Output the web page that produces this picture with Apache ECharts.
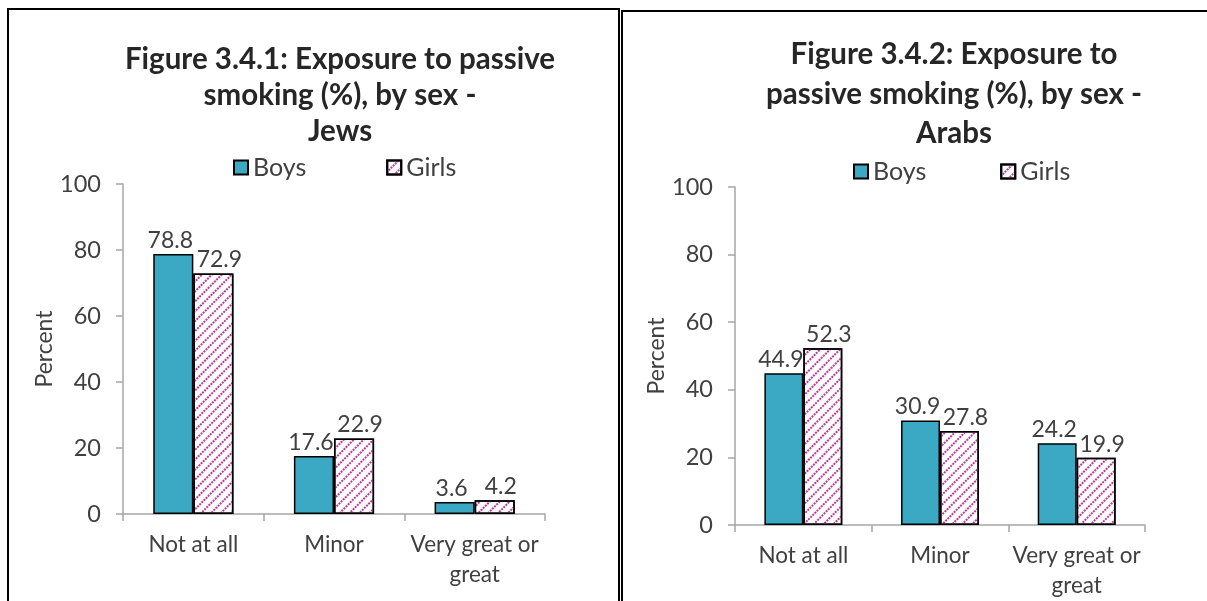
<!DOCTYPE html>
<html>
<head>
<meta charset="utf-8">
<script src="https://cdn.jsdelivr.net/npm/echarts@6/dist/echarts.min.js"></script>
<style>
html,body{margin:0;padding:0;background:#fff;}
#c{width:1207px;height:601px;}
</style>
</head>
<body>
<div id="c"></div>
<script>
const categories = ['Not at all', 'Minor', 'Very great or great'];
const jewsBoys = [78.8, 17.6, 3.6];
const jewsGirls = [72.9, 22.9, 4.2];
const arabsBoys = [44.9, 30.9, 24.2];
const arabsGirls = [52.3, 27.8, 19.9];
const yTicks = [0, 20, 40, 60, 80, 100];
const titleJews = 'Figure 3.4.1: Exposure to passive\nsmoking (%), by sex -\nJews';
const titleArabs = 'Figure 3.4.2: Exposure to\npassive smoking (%), by sex -\nArabs';

const FONT = 'Lato';
const TXT = '#404040';
const AX = '#A6A6A6';
const BOY = '#3BA8C4';
const GIRL_STRIPE = '#BE3A98';

const chart = echarts.init(document.getElementById('c'));

function xAxis(gi) {
  return {
    type: 'category', gridIndex: gi, data: categories,
    axisLine: {lineStyle: {color: AX, width: 1.5}},
    axisTick: {show: true, length: 7, lineStyle: {color: AX, width: 1.5}},
    axisLabel: {color: TXT, fontFamily: FONT, fontSize: 22.5, lineHeight: 30, margin: 16,
      interval: 0, formatter: v => v.replace(' or ', ' or\n')}
  };
}
function yAxis(gi, gap) {
  return {
    type: 'value', gridIndex: gi, min: yTicks[0], max: yTicks[yTicks.length-1], interval: 20,
    name: 'Percent', nameLocation: 'middle', nameGap: gap, nameRotate: 90,
    nameTextStyle: {color: TXT, fontFamily: FONT, fontSize: 23},
    axisLine: {show: true, lineStyle: {color: AX, width: 1.5}},
    axisTick: {show: true, length: 7, lineStyle: {color: AX, width: 1.5}},
    splitLine: {show: false},
    axisLabel: {color: TXT, fontFamily: FONT, fontSize: 23.5, margin: 22}
  };
}
const girlDecal = {
  symbol: 'rect', symbolSize: 1, color: GIRL_STRIPE,
  dashArrayX: [[2, 1]], dashArrayY: [2, 5], rotation: -Math.PI / 4
};
function labelOpt(dx) {
  return {show: true, position: 'top', distance: 2, offset: [dx, 0],
    color: TXT, fontFamily: FONT, fontSize: 23};
}
function boySeries(name, data, gi) {
  return {
    name: name, type: 'bar', xAxisIndex: gi, yAxisIndex: gi, data: data,
    barGap: '0%', barCategoryGap: '43%',
    itemStyle: {color: BOY, borderColor: '#000', borderWidth: 1.5},
    label: labelOpt(-3),
    emphasis: {disabled: true}
  };
}
function girlSeries(name, data, gi) {
  return {
    name: name, type: 'bar', xAxisIndex: gi, yAxisIndex: gi, data: data,
    barGap: '0%', barCategoryGap: '43%',
    itemStyle: {color: '#fff', borderColor: '#000', borderWidth: 1.5, decal: girlDecal},
    label: labelOpt(6),
    emphasis: {disabled: true}
  };
}

chart.setOption({
  backgroundColor: '#fff',
  animation: false,
  aria: {enabled: false, decal: {show: true}},
  title: [
    {text: titleJews, left: 335, top: 36, textAlign: 'center',
     textStyle: {fontFamily: FONT, fontWeight: 'bold', fontSize: 29.5, lineHeight: 36, color: '#262626'}},
    {text: titleArabs, left: 949, top: 30, textAlign: 'center',
     textStyle: {fontFamily: FONT, fontWeight: 'bold', fontSize: 29.5, lineHeight: 39.5, color: '#262626'}}
  ],
  legend: [
    {data: ['Boys', 'Girls'], left: 228, top: 150, icon: 'rect', itemWidth: 14, itemHeight: 14, itemGap: 80,
     textStyle: {color: TXT, fontFamily: FONT, fontSize: 25}, selectedMode: false},
    {data: ['Boys', 'Girls'], left: 848, top: 154, icon: 'rect', itemWidth: 14, itemHeight: 14, itemGap: 74,
     textStyle: {color: TXT, fontFamily: FONT, fontSize: 25}, selectedMode: false}
  ],
  grid: [
    {left: 123, right: 1207 - 545, top: 184, bottom: 601 - 514, containLabel: false},
    {left: 735, right: 1207 - 1145, top: 187, bottom: 601 - 525, containLabel: false}
  ],
  xAxis: [xAxis(0), xAxis(1)],
  yAxis: [yAxis(0, 64), yAxis(1, 60)],
  series: [
    boySeries('Boys', jewsBoys, 0), girlSeries('Girls', jewsGirls, 0),
    boySeries('Boys', arabsBoys, 1), girlSeries('Girls', arabsGirls, 1)
  ],
  graphic: [
    {type: 'rect', shape: {x: 8, y: 9, width: 611, height: 620}, silent: true,
     style: {fill: 'none', stroke: '#000', lineWidth: 2}},
    {type: 'rect', shape: {x: 622, y: 11, width: 620, height: 620}, silent: true,
     style: {fill: 'none', stroke: '#000', lineWidth: 2}}
  ]
});
</script>
</body>
</html>
